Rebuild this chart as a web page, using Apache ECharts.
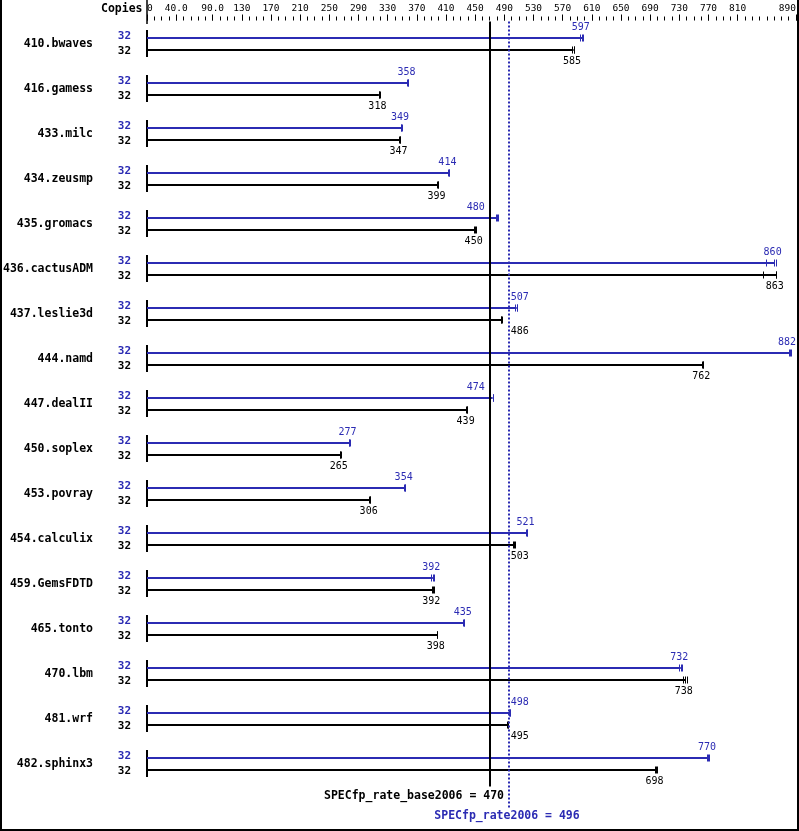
<!DOCTYPE html>
<html>
<head>
<meta charset="utf-8">
<script src="https://cdn.jsdelivr.net/npm/echarts@6/dist/echarts.min.js"></script>
<style>html,body{margin:0;padding:0;background:#fff}#c{width:799px;height:831px}</style>
</head>
<body>
<div id="c"></div>
<script>
const benchmarks = ['410.bwaves','416.gamess','433.milc','434.zeusmp','435.gromacs','436.cactusADM','437.leslie3d','444.namd','447.dealII','450.soplex','453.povray','454.calculix','459.GemsFDTD','465.tonto','470.lbm','481.wrf','482.sphinx3'];
const peakCopies = [32,32,32,32,32,32,32,32,32,32,32,32,32,32,32,32,32];
const baseCopies = [32,32,32,32,32,32,32,32,32,32,32,32,32,32,32,32,32];
const peakRatio = [597,358,349,414,480,860,507,882,474,277,354,521,392,435,732,498,770];
const baseRatio = [585,318,347,399,450,863,486,762,439,265,306,503,392,398,738,495,698];
const peakRuns = [[594,597,598],[357,358,358],[349,349,350],[413,414,414],[478,480,481],[849,860,862],[505,507,508],[880,882,883],[474,474,475],[277,277,278],[353,354,354],[520,521,521],[390,392,393],[434,435,435],[730,732,733],[497,498,498],[768,770,771]];
const baseRuns = [[583,585,586],[318,318,319],[346,347,347],[398,399,399],[449,450,451],[845,863,863],[485,486,487],[761,762,762],[438,439,439],[264,265,266],[305,306,306],[502,503,504],[391,392,393],[397,398,398],[735,738,740],[494,495,495],[697,698,699]];
const baseScore = 470;
const peakScore = 496;
const tickLabels = [0,40,90,130,170,210,250,290,330,370,410,450,490,530,570,610,650,690,730,770,810,890];

const BLUE = '#2b2bb3';
const MONO = '"DejaVu Sans Mono", monospace';

const chart = echarts.init(document.getElementById('c'), null, {renderer: 'canvas'});

function barItem(params, api) {
  const i = params.dataIndex;
  const k = api.value(0);
  const c0 = api.coord([0, k]);
  const x0 = c0[0], yc = c0[1];
  const xBase = api.coord([baseScore, k])[0];
  const xPeak = api.coord([peakScore, k])[0];
  const children = [];
  children.push({type: 'line', shape: {x1: x0, y1: yc - 14, x2: x0, y2: yc + 13}, style: {stroke: '#000', lineWidth: 2}});
  function placeLabel(xEnd) {
    const hw = 9;
    let cx = xEnd - 1.5;
    const lines = [xBase, xPeak];
    const hits = (c) => lines.some(L => c - hw - 1 < L && c + hw + 1 > L);
    if (!hits(cx)) return cx;
    let best = null;
    const cands = [];
    lines.forEach(L => { cands.push(L + 2 + hw); cands.push(L - 5 - hw); });
    cands.forEach(c => { if (!hits(c)) { if (best === null || Math.abs(c - cx) < Math.abs(best - cx)) best = c; } });
    return best === null ? cx : best;
  }
  const rows = [
    {v: peakRatio[i], runs: peakRuns[i], y: yc - 6, color: BLUE, ly: yc - 17},
    {v: baseRatio[i], runs: baseRuns[i], y: yc + 6, color: '#000', ly: yc + 17.5}
  ];
  rows.forEach(r => {
    const xe = api.coord([r.v, k])[0];
    children.push({type: 'line', shape: {x1: x0, y1: r.y, x2: xe, y2: r.y}, style: {stroke: r.color, lineWidth: 2}});
    r.runs.forEach(rv => {
      const xr = Math.round(api.coord([rv, k])[0]) + 0.5;
      children.push({type: 'line', shape: {x1: xr, y1: r.y - 3.5, x2: xr, y2: r.y + 3.5}, style: {stroke: r.color, lineWidth: 1}});
    });
    let lx = placeLabel(xe);
    const right = params.coordSys.x + params.coordSys.width;
    if (lx + 9 > right) lx = right - 9;
    children.push({type: 'text', x: lx, y: r.ly, style: {text: String(r.v), fill: r.color, font: '10px ' + MONO, align: 'center', verticalAlign: 'middle'}});
  });
  return {type: 'group', children: children};
}

function summaryItem(params, api) {
  const cs = params.coordSys;
  const xb = Math.round(api.coord([baseScore, 0])[0]);
  const xp = Math.round(api.coord([peakScore, 0])[0]);
  const top = cs.y, bot = cs.y + cs.height;
  return {type: 'group', children: [
    {type: 'line', shape: {x1: xb, y1: top, x2: xb, y2: bot}, style: {stroke: '#000', lineWidth: 2}},
    {type: 'line', shape: {x1: xp, y1: top, x2: xp, y2: bot + 21}, style: {stroke: BLUE, lineWidth: 2, lineDash: [2, 2]}},
    {type: 'text', x: xb + 14, y: bot + 9.5, style: {text: 'SPECfp_rate_base2006 = ' + baseScore, fill: '#000', font: 'bold 11.5px ' + MONO, align: 'right', verticalAlign: 'middle'}},
    {type: 'text', x: xp - 2, y: bot + 30, style: {text: 'SPECfp_rate2006 = ' + peakScore, fill: BLUE, font: 'bold 11.5px ' + MONO, align: 'center', verticalAlign: 'middle'}}
  ]};
}

const option = {
  animation: false,
  backgroundColor: '#fff',
  grid: {left: 147, right: 3, top: 21.5, height: 765, containLabel: false},
  xAxis: [
    {type: 'value', position: 'top', min: 0, max: 890, offset: 1,
     axisLine: {show: false}, splitLine: {show: false},
     axisTick: {show: true, length: 6, customValues: tickLabels, lineStyle: {color: '#000', width: 1}},
     axisLabel: {show: true, customValues: tickLabels, margin: 7, color: '#000', fontFamily: MONO, fontSize: 9.5,
       alignMinLabel: 'left', alignMaxLabel: 'right',
       formatter: v => (v === 40 || v === 90) ? v.toFixed(1) : String(v)}},
    {type: 'value', position: 'top', min: 0, max: 890, interval: 10, offset: 1,
     axisLine: {show: false}, splitLine: {show: false},
     axisTick: {show: true, length: 4, lineStyle: {color: '#000', width: 1}},
     axisLabel: {show: false}}
  ],
  yAxis: [
    {type: 'category', data: benchmarks, inverse: true, position: 'left',
     axisLine: {show: false}, axisTick: {show: false}, splitLine: {show: false},
     axisLabel: {margin: 54, color: '#000', fontFamily: MONO, fontWeight: 'bold', fontSize: 11.5, align: 'right'}},
    {type: 'category', data: benchmarks, inverse: true, position: 'left',
     axisLine: {show: false}, axisTick: {show: false}, splitLine: {show: false},
     axisLabel: {margin: 16, align: 'right', fontFamily: MONO, fontWeight: 'bold', fontSize: 11,
       formatter: (v, i) => '{p|' + peakCopies[i] + '}\n{b|' + baseCopies[i] + '}',
       rich: {p: {color: BLUE, fontFamily: MONO, fontWeight: 'bold', fontSize: 11, lineHeight: 15},
              b: {color: '#000', fontFamily: MONO, fontWeight: 'bold', fontSize: 11, lineHeight: 15}}}}
  ],
  graphic: [
    {type: 'text', left: 101, top: 3, style: {text: 'Copies', fill: '#000', font: 'bold 11.5px ' + MONO}},
    {type: 'line', shape: {x1: 147, y1: 0, x2: 147, y2: 24}, style: {stroke: '#000', lineWidth: 1.5}},
    {type: 'polyline', shape: {points: [[1, 0], [1, 830], [798, 830], [798, 0]]}, style: {stroke: '#000', lineWidth: 2, fill: null}}
  ],
  series: [
    {type: 'custom', xAxisIndex: 0, yAxisIndex: 0, renderItem: barItem,
     encode: {x: [1, 2], y: 0},
     data: benchmarks.map((b, i) => [i, peakRatio[i], baseRatio[i]])},
    {type: 'custom', xAxisIndex: 0, yAxisIndex: 0, renderItem: summaryItem,
     encode: {x: 1, y: 0},
     data: [[0, baseScore]]}
  ]
};
chart.setOption(option);
</script>
</body>
</html>
